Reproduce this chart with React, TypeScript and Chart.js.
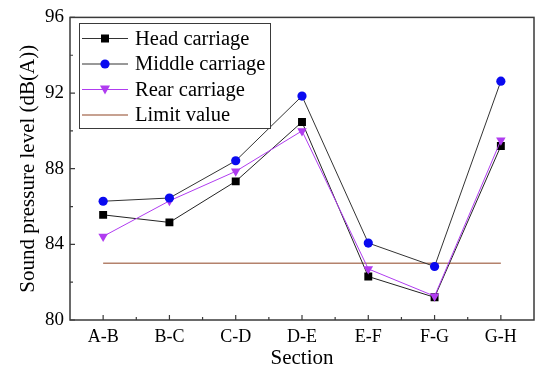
import React, { useEffect, useRef } from "react";
import { Chart, registerables } from "chart.js";

Chart.register(...registerables);

const categories = ["A-B", "B-C", "C-D", "D-E", "E-F", "F-G", "G-H"];
const headCarriage = [85.56, 85.16, 87.33, 90.47, 82.3, 81.2, 89.2];
const middleCarriage = [86.28, 86.45, 88.42, 91.84, 84.07, 82.83, 92.63];
const rearCarriage = [84.42, 86.3, 87.86, 90.0, 82.7, 81.26, 89.5];
const limitValue = [83, 83, 83, 83, 83, 83, 83];
const yTicks = [80, 84, 88, 92, 96];
const yMinorTicks = [82, 86, 90, 94];
const legendLabels = ["Head carriage", "Middle carriage", "Rear carriage", "Limit value"];

const FONT = "'Liberation Serif', 'Times New Roman', serif";
const AXIS_COLOR = "#3a3a3a";

const HEAD_COLOR = "#000000";
const MID_COLOR = "#0a0af0";
const REAR_COLOR = "#b03cf0";
const LIMIT_COLOR = "#b4826c";

const framePlugin = {
  id: "frameTicks",
  afterDraw(chart: any) {
    const { ctx, chartArea } = chart;
    const { left, right, top, bottom } = chartArea;
    const xs = chart.scales.x;
    const ys = chart.scales.y;
    ctx.save();
    ctx.strokeStyle = AXIS_COLOR;
    ctx.lineWidth = 1.5;
    ctx.strokeRect(left, top, right - left, bottom - top);
    ctx.lineWidth = 1.2;
    ctx.beginPath();
    for (let i = 0; i < categories.length; i++) {
      const px = xs.getPixelForValue(i);
      ctx.moveTo(px, bottom);
      ctx.lineTo(px, bottom - 5);
    }
    for (let i = 0; i < categories.length - 1; i++) {
      const px = (xs.getPixelForValue(i) + xs.getPixelForValue(i + 1)) / 2;
      ctx.moveTo(px, bottom);
      ctx.lineTo(px, bottom - 3);
    }
    for (const v of yTicks) {
      const py = ys.getPixelForValue(v);
      ctx.moveTo(left, py);
      ctx.lineTo(left + 5, py);
    }
    for (const v of yMinorTicks) {
      const py = ys.getPixelForValue(v);
      ctx.moveTo(left, py);
      ctx.lineTo(left + 3, py);
    }
    ctx.stroke();
    ctx.restore();
  },
};

function drawMarker(ctx: CanvasRenderingContext2D, kind: string, x: number, y: number, color: string) {
  ctx.fillStyle = color;
  if (kind === "rect") {
    ctx.fillRect(x - 4, y - 4, 8, 8);
  } else if (kind === "circle") {
    ctx.beginPath();
    ctx.arc(x, y, 4.6, 0, Math.PI * 2);
    ctx.fill();
  } else if (kind === "tri") {
    ctx.beginPath();
    ctx.moveTo(x - 5, y - 4);
    ctx.lineTo(x + 5, y - 4);
    ctx.lineTo(x, y + 5);
    ctx.closePath();
    ctx.fill();
  }
}

const legendPlugin = {
  id: "boxLegend",
  afterDraw(chart: any) {
    const { ctx } = chart;
    const bx = 79, by = 23, bw = 191, bh = 105;
    ctx.save();
    ctx.fillStyle = "#ffffff";
    ctx.fillRect(bx, by, bw, bh);
    ctx.strokeStyle = AXIS_COLOR;
    ctx.lineWidth = 1;
    ctx.strokeRect(bx + 0.5, by + 0.5, bw, bh);
    const items = [
      { label: legendLabels[0], line: "#333333", marker: "rect", mcolor: HEAD_COLOR, y: 38.5 },
      { label: legendLabels[1], line: "#333333", marker: "circle", mcolor: MID_COLOR, y: 64 },
      { label: legendLabels[2], line: REAR_COLOR, marker: "tri", mcolor: REAR_COLOR, y: 89.5 },
      { label: legendLabels[3], line: LIMIT_COLOR, marker: "", mcolor: "", y: 115 },
    ];
    ctx.font = `20.5px ${FONT}`;
    ctx.textBaseline = "middle";
    for (const it of items) {
      ctx.strokeStyle = it.line;
      ctx.lineWidth = it.marker ? 1 : 1.6;
      ctx.beginPath();
      ctx.moveTo(82, it.y);
      ctx.lineTo(128, it.y);
      ctx.stroke();
      if (it.marker) drawMarker(ctx, it.marker, 105, it.y, it.mcolor);
      ctx.fillStyle = "#000000";
      ctx.fillText(it.label, 135, it.y + 1);
    }
    ctx.restore();
  },
};

export default function App() {
  const ref = useRef<HTMLCanvasElement>(null);
  useEffect(() => {
    document.body.style.margin = "0";
    const canvas = ref.current!;
    const chart = new Chart(canvas, {
      type: "line",
      data: {
        labels: categories,
        datasets: [
          {
            label: "Limit value",
            data: limitValue,
            borderColor: LIMIT_COLOR,
            borderWidth: 1.6,
            pointRadius: 0,
            order: 4,
          },
          {
            label: "Head carriage",
            data: headCarriage,
            borderColor: "#222222",
            borderWidth: 1,
            pointStyle: "rect",
            pointRadius: 5.6,
            pointBackgroundColor: HEAD_COLOR,
            pointBorderColor: HEAD_COLOR,
            pointBorderWidth: 0,
            order: 3,
          },
          {
            label: "Middle carriage",
            data: middleCarriage,
            borderColor: "#333333",
            borderWidth: 1,
            pointStyle: "circle",
            pointRadius: 4.6,
            pointBackgroundColor: MID_COLOR,
            pointBorderColor: MID_COLOR,
            pointBorderWidth: 0,
            order: 1,
          },
          {
            label: "Rear carriage",
            data: rearCarriage,
            borderColor: REAR_COLOR,
            borderWidth: 1,
            pointStyle: "triangle",
            rotation: 180,
            pointRadius: 5.5,
            pointBackgroundColor: REAR_COLOR,
            pointBorderColor: REAR_COLOR,
            pointBorderWidth: 0,
            order: 2,
          },
        ],
      },
      options: {
        animation: false,
        responsive: false,
        maintainAspectRatio: false,
        layout: { padding: { top: 16, right: 16, left: 0, bottom: 0 } },
        plugins: {
          legend: { display: false },
          tooltip: { enabled: false },
        },
        scales: {
          x: {
            type: "category",
            offset: true,
            grid: { display: false, drawTicks: false },
            border: { display: false },
            ticks: {
              color: "#000",
              font: { family: FONT, size: 18 },
              padding: 6,
              maxRotation: 0,
            },
            title: {
              display: true,
              text: "Section",
              color: "#000",
              font: { family: FONT, size: 21 },
              padding: { top: 0, bottom: 4 },
            },
            afterFit(scale: any) {
              scale.height = 55;
            },
          },
          y: {
            min: 80,
            max: 96,
            afterBuildTicks(scale: any) {
              scale.ticks = yTicks.map((v) => ({ value: v }));
            },
            grid: { display: false, drawTicks: false },
            border: { display: false },
            ticks: {
              color: "#000",
              font: { family: FONT, size: 19 },
              padding: 6,
            },
            title: {
              display: true,
              text: "Sound pressure level (dB(A))",
              color: "#000",
              font: { family: FONT, size: 21 },
              padding: { top: 16, bottom: 0 },
            },
            afterFit(scale: any) {
              scale.width = 70;
            },
          },
        },
      },
      plugins: [framePlugin, legendPlugin],
    });
    return () => chart.destroy();
  }, []);
  return <canvas ref={ref} width={550} height={375} style={{ display: "block", width: 550, height: 375 }} />;
}
